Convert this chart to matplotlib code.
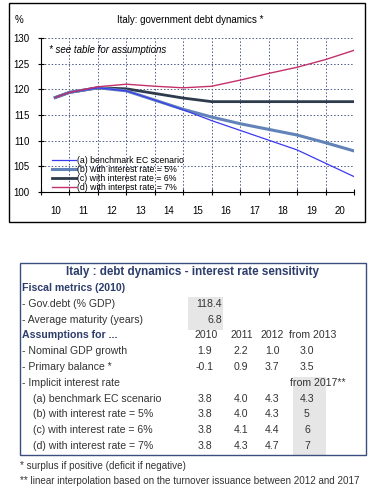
import matplotlib
matplotlib.use("Agg")
import matplotlib.pyplot as plt
from matplotlib.patches import Rectangle

plt.rcParams['font.family'] = ['Liberation Sans', 'DejaVu Sans']

# chart data (x = year position, 10 = 2010)
years = [10.0, 10.5, 11.5, 12.5, 13.5, 14.5, 15.5, 16.5, 17.5, 18.5, 19.5, 20.5]
debt_a = [118.4, 119.4, 120.3, 119.7, 117.9, 116.0, 113.9, 112.0, 110.1, 108.2, 105.6, 103.0]
debt_b = [118.4, 119.4, 120.3, 119.7, 117.9, 116.1, 114.6, 113.3, 112.2, 111.1, 109.6, 108.0]
debt_c = [118.4, 119.4, 120.3, 120.1, 119.2, 118.3, 117.6, 117.6, 117.6, 117.6, 117.6, 117.6]
debt_d = [118.4, 119.4, 120.5, 121.0, 120.6, 120.3, 120.6, 121.8, 123.1, 124.3, 125.8, 127.6]
labels = ["(a) benchmark EC scenario", "(b) with interest rate = 5%",
          "(c) with interest rate = 6%", "(d) with interest rate = 7%"]
xtick_labels = ["10", "11", "12", "13", "14", "15", "16", "17", "18", "19", "20"]

# table data
fiscal_rows = ["- Gov.debt (% GDP)", "- Average maturity (years)"]
fiscal_vals = ["118.4", "6.8"]
col_heads = ["2010", "2011", "2012", "from 2013"]
gdp_growth = ["1.9", "2.2", "1.0", "3.0"]
primary_bal = ["-0.1", "0.9", "3.7", "3.5"]
scen_rows = ["(a) benchmark EC scenario", "(b) with interest rate = 5%",
             "(c) with interest rate = 6%", "(d) with interest rate = 7%"]
rates = [["3.8", "4.0", "4.3", "4.3"],
         ["3.8", "4.0", "4.3", "5"],
         ["3.8", "4.1", "4.4", "6"],
         ["3.8", "4.3", "4.7", "7"]]

W, H = 376, 494
fig = plt.figure(figsize=(W / 100, H / 100), dpi=100)

def fx(px):
    return px / W

def fy(py):
    return 1 - py / H

# outer frame of chart
fig.patches.append(Rectangle((fx(9), fy(222)), fx(356), 219 / H, transform=fig.transFigure,
                             fill=False, ec="black", lw=1.0))
fig.text(fx(15), fy(20), "%", fontsize=7, va="center")
fig.text(fx(190), fy(20), "Italy: government debt dynamics *", fontsize=7, ha="center", va="center")

ax = fig.add_axes([fx(41), fy(192), fx(313), 154 / H])
ax.plot(years, debt_c, color="#2e3b4c", lw=2.0, label=labels[2])
ax.plot(years, debt_b, color="#6283b8", lw=2.2, label=labels[1])
ax.plot(years, debt_a, color="#3a3af0", lw=0.9, label=labels[0])
ax.plot(years, debt_d, color="#c4306a", lw=1.0, label=labels[3])
ax.set_xlim(9.5, 20.5)
ax.set_ylim(100, 130)
ax.set_yticks([100, 105, 110, 115, 120, 125, 130])
ax.set_xticks([9.5 + i for i in range(12)])
ax.set_xticklabels([])
ax.set_xticks([10 + i for i in range(11)], minor=True)
ax.set_xticklabels(xtick_labels, minor=True)
ax.tick_params(axis="x", which="major", direction="inout", length=4, width=0.8)
ax.tick_params(axis="x", which="minor", length=0, pad=10, labelsize=7)
ax.tick_params(axis="y", direction="inout", length=4, width=0.8, pad=6, labelsize=7)
for s in ["top", "right"]:
    ax.spines[s].set_visible(False)
ax.grid(True, which="major", color="#4a5a88", ls=(0, (1.5, 2)), lw=0.7)
ax.set_axisbelow(True)
ax.text(0.025, 0.92, "* see table for assumptions", transform=ax.transAxes,
        fontsize=7, style="italic", va="center")
h, l = ax.get_legend_handles_labels()
order = [2, 1, 0, 3]
ax.legend([h[i] for i in order], [l[i] for i in order], loc="lower left", fontsize=6.3,
          frameon=False, handlelength=2.8, handletextpad=0.1, labelspacing=0.0,
          borderaxespad=0.1, bbox_to_anchor=(0.02, -0.03))

# table
tx = fig.add_axes([0, 0, 1, 1])
tx.set_xlim(0, W)
tx.set_ylim(H, 0)
tx.axis("off")
navy = "#2d3d6c"
body = "#333333"
fs = 7.6
tx.add_patch(Rectangle((188, 297), 35, 33, color="#e6e6e6", lw=0))
tx.add_patch(Rectangle((293, 377), 33, 78, color="#e6e6e6", lw=0))
tx.add_patch(Rectangle((20, 263), 346, 192, fill=False, ec="#3c4d80", lw=1.0))
tx.text(193, 272, "Italy : debt dynamics - interest rate sensitivity", fontsize=8.4,
        fontweight="bold", color=navy, ha="center", va="center")

rows_y = [288 + 15.8 * i for i in range(11)]
tx.text(22, rows_y[0], "Fiscal metrics (2010)", fontsize=fs, fontweight="bold", color=navy, va="center")
for i in range(2):
    tx.text(22, rows_y[1 + i], fiscal_rows[i], fontsize=fs, color=body, va="center")
    tx.text(222, rows_y[1 + i], fiscal_vals[i], fontsize=fs, color=body, va="center", ha="right")
tx.text(22, rows_y[3], "Assumptions for ...", fontsize=fs, fontweight="bold", color=navy, va="center")

col_x = [205, 241, 272, 307]
head_x = [206, 242, 272, 313]
for j in range(4):
    tx.text(head_x[j], rows_y[3], col_heads[j], fontsize=fs, color=body, va="center", ha="center")
tx.text(22, rows_y[4], "- Nominal GDP growth", fontsize=fs, color=body, va="center")
tx.text(22, rows_y[5], "- Primary balance *", fontsize=fs, color=body, va="center")
tx.text(22, rows_y[6], "- Implicit interest rate", fontsize=fs, color=body, va="center")
tx.text(346, rows_y[6], "from 2017**", fontsize=fs, color=body, va="center", ha="right")
for j in range(4):
    tx.text(col_x[j], rows_y[4], gdp_growth[j], fontsize=fs, color=body, va="center", ha="center")
    tx.text(col_x[j], rows_y[5], primary_bal[j], fontsize=fs, color=body, va="center", ha="center")
for i in range(4):
    tx.text(33, rows_y[7 + i], scen_rows[i], fontsize=fs, color=body, va="center")
    for j in range(4):
        tx.text(col_x[j], rows_y[7 + i], rates[i][j], fontsize=fs, color=body, va="center", ha="center")

tx.text(20, 466, "* surplus if positive (deficit if negative)", fontsize=7.1, color=body, va="center")
tx.text(20, 481, "** linear interpolation based on the turnover issuance between 2012 and 2017",
        fontsize=7.1, color=body, va="center")

fig.savefig("out.png", dpi=100)
